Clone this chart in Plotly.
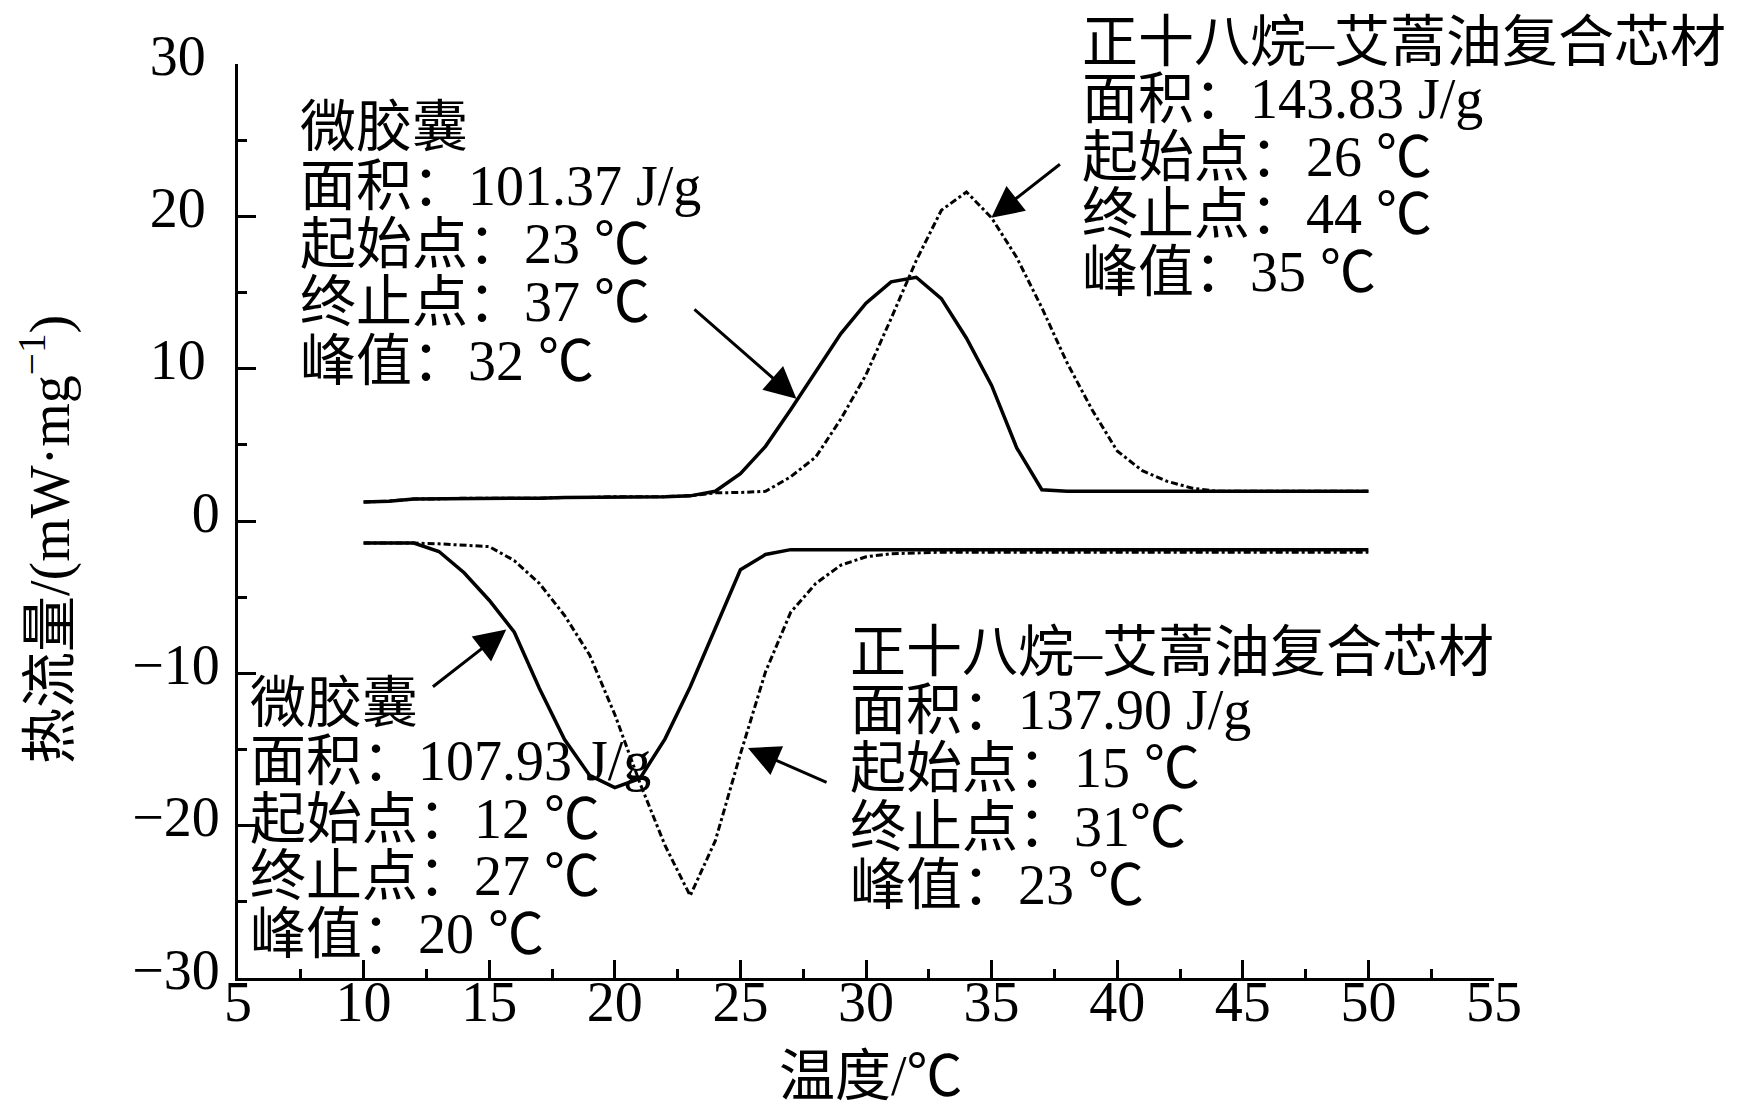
import plotly.graph_objects as go

# temperature grid, 1 degC steps
temp = list(range(10, 51))

# heating curves (upper)
heat_capsule = [
    1.25, 1.3, 1.45, 1.45, 1.5, 1.5, 1.5, 1.5, 1.55, 1.55,
    1.6, 1.6, 1.6, 1.65, 1.95, 3.1, 4.9, 7.3, 9.8, 12.3,
    14.3, 15.7, 16.0, 14.6, 12.0, 8.9, 4.8, 2.05, 1.95, 1.95,
    1.95, 1.95, 1.95, 1.95, 1.95, 1.95, 1.95, 1.95, 1.95, 1.95,
    1.95,
]
heat_core = [
    1.25, 1.3, 1.45, 1.45, 1.5, 1.5, 1.5, 1.5, 1.55, 1.55,
    1.6, 1.6, 1.6, 1.65, 1.85, 1.87, 1.95, 2.9, 4.2, 6.7,
    9.6, 13.3, 17.1, 20.4, 21.6, 19.9, 17.3, 14.0, 10.4, 7.3,
    4.6, 3.3, 2.6, 2.15, 1.95, 1.95, 1.95, 1.95, 1.95, 1.95,
    1.95,
]

# cooling curves (lower)
cool_capsule = [
    -1.44, -1.44, -1.45, -2.0, -3.4, -5.2, -7.3, -11.0, -14.35, -16.7,
    -17.5, -16.9, -14.3, -10.9, -7.0, -3.2, -2.2, -1.88, -1.88, -1.88,
    -1.88, -1.88, -1.88, -1.88, -1.88, -1.88, -1.88, -1.88, -1.88, -1.88,
    -1.88, -1.88, -1.88, -1.88, -1.88, -1.88, -1.88, -1.88, -1.88, -1.88,
    -1.88,
]
cool_core = [
    -1.44, -1.44, -1.45, -1.5, -1.6, -1.68, -2.6, -4.1, -6.2, -8.8,
    -12.7, -17.2, -21.3, -24.6, -21.0, -15.3, -9.9, -6.0, -4.1, -2.9,
    -2.35, -2.15, -2.1, -2.05, -2.05, -2.05, -2.05, -2.05, -2.05, -2.05,
    -2.05, -2.05, -2.05, -2.05, -2.05, -2.05, -2.05, -2.05, -2.05, -2.05,
    -2.05,
]

# y tick labels (positive ones sit a little further left in the original)
y_tickvals = [-30, -20, -10, 0, 10, 20, 30]
y_ticktext = ["−30", "−20", "−10", "0", "10\u00a0", "20\u00a0", "30\u00a0"]

# annotation texts
label_heat_capsule = ["微胶囊", "面积：101.37 J/g", "起始点：23 ℃", "终止点：37 ℃", "峰值：32 ℃"]
label_heat_core = ["正十八烷–艾蒿油复合芯材", "面积：143.83 J/g", "起始点：26 ℃", "终止点：44 ℃", "峰值：35 ℃"]
label_cool_capsule = ["微胶囊", "面积：107.93 J/g", "起始点：12 ℃", "终止点：27 ℃", "峰值：20 ℃"]
label_cool_core = ["正十八烷–艾蒿油复合芯材", "面积：137.90 J/g", "起始点：15 ℃", "终止点：31℃", "峰值：23 ℃"]

x_title = "温度/℃"
y_title = "热流量/(mW·mg<sup>−1</sup>)"

FONT = "Liberation Serif, Noto Sans CJK SC"
SIZE = 56

# plot area in pixels (left, right, top, bottom)
L, R, T, B = 230, 1486, 56, 970


def px(x):
    return (x - L) / (R - L)


def py(y):
    return (B - y) / (B - T)


fig = go.Figure()

for y_vals, dash, width in [
    (heat_capsule, "solid", 3.5),
    (heat_core, "7px,3px,3px,3px", 3),
    (cool_capsule, "solid", 3.5),
    (cool_core, "7px,3px,3px,3px", 3),
]:
    fig.add_trace(
        go.Scatter(
            x=temp,
            y=y_vals,
            mode="lines",
            line=dict(color="black", width=width, dash=dash),
            showlegend=False,
            hoverinfo="skip",
        )
    )

annotations = []


def add_block(lines, left, first, step=58.5):
    for i, txt in enumerate(lines):
        annotations.append(
            dict(
                x=px(left),
                y=py(first + i * step),
                xref="paper",
                yref="paper",
                text=txt,
                showarrow=False,
                xanchor="left",
                yanchor="middle",
                font=dict(family=FONT, size=SIZE, color="black"),
            )
        )


add_block(label_heat_capsule, 290, 119)
add_block(label_heat_core, 1072, 34, 57.5)
add_block(label_cool_capsule, 240, 695, 57.8)
add_block(label_cool_core, 840, 644, 58.2)

# arrows: (head x, head y, tail x, tail y)
for hx, hy, tx, ty in [
    (27.23, 8.03, 23.11, 13.98),
    (34.99, 19.9, 37.78, 23.5),
    (15.68, -7.13, 12.7, -10.96),
    (25.3, -14.9, 28.49, -17.2),
]:
    annotations.append(
        dict(
            x=hx,
            y=hy,
            ax=tx,
            ay=ty,
            xref="x",
            yref="y",
            axref="x",
            ayref="y",
            text="",
            showarrow=True,
            arrowhead=2,
            arrowsize=2.1,
            arrowwidth=3,
            arrowcolor="black",
        )
    )

annotations.append(
    dict(
        x=px(863), y=py(1068), xref="paper", yref="paper",
        text=x_title, showarrow=False,
        xanchor="center", yanchor="middle",
        font=dict(family=FONT, size=SIZE, color="black"),
    )
)
annotations.append(
    dict(
        x=px(38), y=py(532), xref="paper", yref="paper",
        text=y_title, showarrow=False, textangle=-90,
        xanchor="center", yanchor="middle",
        font=dict(family=FONT, size=SIZE, color="black"),
    )
)

fig.update_layout(
    width=1759,
    height=1113,
    margin=dict(l=L, r=1759 - R, t=T, b=1113 - B, autoexpand=False),
    paper_bgcolor="white",
    plot_bgcolor="white",
    annotations=annotations,
    font=dict(family=FONT, size=SIZE, color="black"),
)

fig.update_xaxes(
    range=[5, 55],
    tick0=5,
    dtick=5,
    ticks="inside",
    ticklen=18,
    tickwidth=3,
    tickcolor="black",
    minor=dict(ticks="inside", ticklen=9, tickwidth=3, tickcolor="black", dtick=2.5, tick0=5),
    showline=True,
    linewidth=3,
    linecolor="black",
    showgrid=False,
    zeroline=False,
    automargin=False,
    ticklabelstandoff=-27,
    tickfont=dict(family=FONT, size=SIZE, color="black"),
)
fig.update_yaxes(
    range=[-30, 30],
    tickmode="array",
    tickvals=y_tickvals,
    ticktext=y_ticktext,
    ticks="inside",
    ticklen=18,
    tickwidth=3,
    tickcolor="black",
    minor=dict(ticks="inside", ticklen=9, tickwidth=3, tickcolor="black", dtick=5, tick0=0),
    showline=True,
    linewidth=3,
    linecolor="black",
    showgrid=False,
    zeroline=False,
    automargin=False,
    ticklabelstandoff=4,
    ticklabelshift=-9,
    tickfont=dict(family=FONT, size=SIZE, color="black"),
)

fig.write_html("out.html")
